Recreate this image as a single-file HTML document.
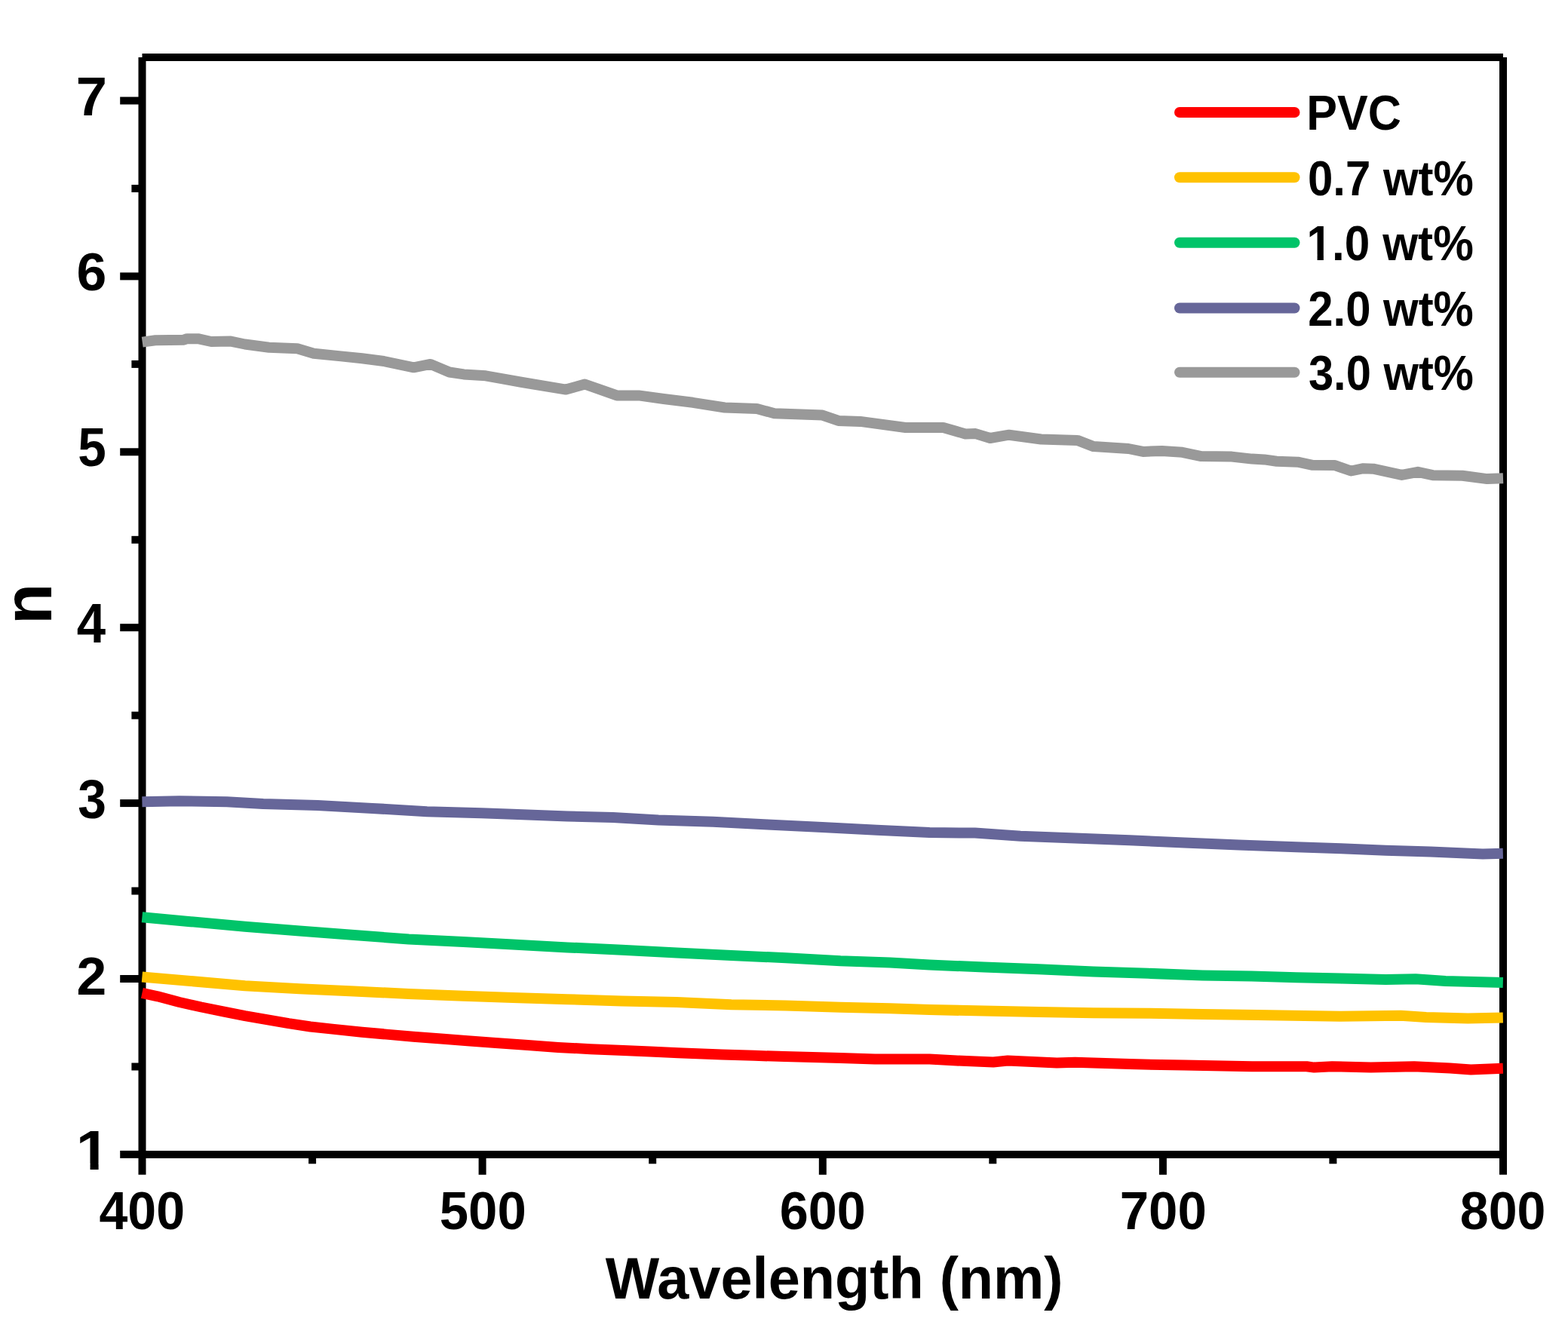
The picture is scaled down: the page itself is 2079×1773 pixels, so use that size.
<!DOCTYPE html>
<html><head><meta charset="utf-8"><title>n vs Wavelength</title>
<style>html,body{margin:0;padding:0;background:#fff;}svg{display:block;}</style>
</head><body>
<svg width="2079" height="1773" viewBox="0 0 2079 1773">
<rect width="100%" height="100%" fill="#fff"/>
<g stroke="#000" stroke-width="10" fill="none" stroke-linecap="butt"><path d="M188.5,76.1H1993.0" /><path d="M188.5,1530.9H1993.0" /><path d="M188.5,76.1V1557.8" /><path d="M1993.0,76.1V1557.8" /><path d="M414.1,1530.9V1543.3" /><path d="M639.6,1530.9V1557.8" /><path d="M865.2,1530.9V1543.3" /><path d="M1090.8,1530.9V1557.8" /><path d="M1316.3,1530.9V1543.3" /><path d="M1541.9,1530.9V1557.8" /><path d="M1767.4,1530.9V1543.3" /><path d="M159.2,1530.9H188.5" /><path d="M174.4,1414.5H188.5" /><path d="M159.2,1298.0H188.5" /><path d="M174.4,1181.5H188.5" /><path d="M159.2,1065.1H188.5" /><path d="M174.4,948.7H188.5" /><path d="M159.2,832.2H188.5" /><path d="M174.4,715.8H188.5" /><path d="M159.2,599.3H188.5" /><path d="M174.4,482.9H188.5" /><path d="M159.2,366.4H188.5" /><path d="M174.4,250.0H188.5" /><path d="M159.2,133.5H188.5" /></g>
<path d="M188.7,453.6 L206.0,451.3 L243.7,450.7 L248.0,449.2 L262.5,449.2 L280.0,453.0 L306.0,452.6 L324.8,456.5 L356.6,460.8 L394.3,462.3 L416.0,468.8 L452.0,472.4 L480.0,475.3 L509.0,479.0 L548.5,487.3 L570.7,482.9 L595.8,493.5 L615.0,496.4 L644.0,498.3 L692.4,507.0 L750.3,516.6 L775.4,509.5 L817.8,524.4 L846.8,524.4 L880.0,529.0 L918.6,533.8 L961.0,540.5 L1003.6,541.9 L1026.7,548.3 L1090.4,550.6 L1111.7,557.9 L1140.6,558.9 L1200.5,567.0 L1250.7,567.0 L1280.0,575.4 L1293.5,575.1 L1312.8,581.0 L1337.9,576.7 L1380.4,582.5 L1428.6,583.9 L1449.9,592.1 L1496.2,595.0 L1515.5,598.9 L1540.6,597.9 L1567.6,599.8 L1592.7,605.1 L1633.3,605.6 L1660.0,608.6 L1676.4,609.4 L1692.8,611.8 L1720.7,612.7 L1740.4,616.8 L1770.0,617.1 L1791.3,624.5 L1807.7,621.2 L1820.8,621.7 L1858.6,629.9 L1879.9,625.8 L1899.6,630.2 L1939.0,630.7 L1971.8,635.1 L1993.0,634.3" fill="none" stroke="#999999" stroke-width="14" stroke-linejoin="round" stroke-linecap="butt"/>
<path d="M188.4,1063.2 L237.9,1062.2 L300.7,1063.2 L348.9,1066.1 L421.3,1068.0 L493.7,1071.9 L566.1,1076.2 L638.5,1078.2 L680.0,1079.7 L752.4,1082.6 L812.7,1084.0 L873.0,1087.4 L945.4,1089.8 L1017.8,1093.4 L1090.2,1097.1 L1162.6,1100.7 L1232.4,1104.1 L1292.7,1104.6 L1353.0,1108.7 L1425.4,1111.4 L1497.8,1114.3 L1570.2,1117.4 L1642.6,1120.6 L1718.7,1123.2 L1778.1,1125.2 L1837.4,1127.8 L1896.8,1129.6 L1966.0,1132.5 L1992.8,1131.8" fill="none" stroke="#666699" stroke-width="14" stroke-linejoin="round" stroke-linecap="butt"/>
<path d="M188.4,1216.2 L252.4,1222.2 L324.8,1228.7 L397.2,1234.5 L469.6,1240.1 L542.0,1245.4 L614.4,1249.0 L680.0,1252.4 L752.4,1256.4 L824.8,1259.8 L897.2,1263.4 L969.6,1267.1 L1042.0,1270.2 L1114.4,1274.3 L1180.0,1276.5 L1232.4,1279.4 L1304.8,1282.6 L1377.2,1285.2 L1449.6,1288.6 L1522.0,1290.8 L1594.4,1293.4 L1659.4,1294.6 L1718.7,1296.2 L1778.1,1297.6 L1837.4,1299.0 L1877.0,1298.2 L1916.6,1301.0 L1992.8,1303.1" fill="none" stroke="#00C469" stroke-width="14" stroke-linejoin="round" stroke-linecap="butt"/>
<path d="M188.4,1295.5 L252.4,1301.0 L324.8,1307.3 L397.2,1311.2 L469.6,1314.5 L542.0,1317.9 L614.4,1320.8 L680.0,1322.9 L752.4,1325.2 L824.8,1327.4 L897.2,1328.9 L969.6,1332.2 L1042.0,1333.4 L1114.4,1335.8 L1180.0,1337.2 L1232.4,1339.0 L1304.8,1340.6 L1377.2,1341.9 L1449.6,1343.3 L1522.0,1343.8 L1594.4,1345.0 L1667.3,1346.0 L1776.1,1347.8 L1857.2,1346.8 L1890.9,1349.0 L1946.3,1350.6 L1992.8,1349.6" fill="none" stroke="#FFC200" stroke-width="14" stroke-linejoin="round" stroke-linecap="butt"/>
<path d="M188.4,1316.9 L209.0,1321.3 L237.9,1329.0 L266.9,1335.5 L295.8,1341.3 L324.8,1347.1 L353.7,1352.1 L382.7,1357.2 L411.6,1361.5 L440.6,1364.6 L480.0,1368.8 L512.4,1371.6 L548.0,1374.8 L584.8,1377.4 L620.0,1380.3 L657.2,1383.0 L700.0,1386.0 L740.0,1388.9 L783.0,1391.2 L826.9,1393.0 L862.0,1394.6 L899.3,1396.2 L957.2,1398.4 L1000.0,1399.8 L1040.0,1401.1 L1114.4,1403.0 L1160.0,1404.6 L1232.4,1404.6 L1268.6,1406.5 L1316.9,1408.5 L1336.2,1406.5 L1401.3,1409.4 L1425.4,1408.7 L1497.8,1411.1 L1570.2,1412.6 L1660.0,1414.3 L1732.6,1414.2 L1742.5,1415.6 L1766.2,1414.2 L1817.6,1415.6 L1875.0,1414.2 L1922.5,1416.6 L1950.2,1418.4 L1992.8,1416.8" fill="none" stroke="#FF0000" stroke-width="14" stroke-linejoin="round" stroke-linecap="butt"/>
<path d="M1564,149.0H1716.5" stroke="#FF0000" stroke-width="14" stroke-linecap="round" fill="none"/>
<path d="M1564,235.3H1716.5" stroke="#FFC200" stroke-width="14" stroke-linecap="round" fill="none"/>
<path d="M1564,321.8H1716.5" stroke="#00C469" stroke-width="14" stroke-linecap="round" fill="none"/>
<path d="M1564,408.5H1716.5" stroke="#666699" stroke-width="14" stroke-linecap="round" fill="none"/>
<path d="M1564,493.8H1716.5" stroke="#999999" stroke-width="14" stroke-linecap="round" fill="none"/>
<g font-family="Liberation Sans, Arial, sans-serif" font-weight="bold">
<text transform="translate(100.81,153.00) scale(1.0205,1)" font-size="72.68" fill="#000">7</text>
<text transform="translate(101.58,385.42) scale(1.0238,1)" font-size="69.91" fill="#000">6</text>
<text transform="translate(103.22,617.90) scale(0.9405,1)" font-size="71.80" fill="#000">5</text>
<text transform="translate(101.65,852.30) scale(0.9318,1)" font-size="74.13" fill="#000">4</text>
<text transform="translate(103.24,1084.89) scale(0.9431,1)" font-size="71.88" fill="#000">3</text>
<text transform="translate(101.62,1318.70) scale(1.0038,1)" font-size="71.18" fill="#000">2</text>
<text transform="translate(100.80,1551) scale(1.0953,1)" font-size="73.4">1</text>
<text transform="translate(131.47,1630.41) scale(0.9643,1)" font-size="70.62" fill="#000">400</text>
<text transform="translate(582.78,1630.41) scale(0.9764,1)" font-size="70.62" fill="#000">500</text>
<text transform="translate(1033.70,1630.41) scale(0.9684,1)" font-size="70.62" fill="#000">600</text>
<text transform="translate(1484.63,1630.41) scale(0.9777,1)" font-size="70.62" fill="#000">700</text>
<text transform="translate(1935.84,1630.41) scale(0.9646,1)" font-size="70.62" fill="#000">800</text>
<text transform="translate(802.73,1722.4) scale(0.9642,1)" font-size="78.5">Wavelength (nm)</text>
<text transform="translate(68.00,828.04) rotate(-90) scale(0.9742,1)" font-size="90.98">n</text>
<text transform="translate(1732.21,172.24) scale(0.9483,1)" font-size="64.5">PVC</text>
<text transform="translate(1733.93,258.54) scale(0.9297,1)" font-size="64.5">0.7 wt%</text>
<text transform="translate(1732.50,345.04) scale(0.9358,1)" font-size="64.5">1.0 wt%</text>
<text transform="translate(1734.22,431.74) scale(0.9284,1)" font-size="64.5">2.0 wt%</text>
<text transform="translate(1734.93,517.04) scale(0.9254,1)" font-size="64.5">3.0 wt%</text>
</g>
<rect x="104.37" y="1542.91" width="15.20" height="9.49" fill="#fff"/><rect x="130.60" y="1542.91" width="14.18" height="9.49" fill="#fff"/>
<rect x="1734.80" y="337.85" width="11.79" height="8.58" fill="#fff"/><rect x="1754.87" y="337.85" width="11.02" height="8.58" fill="#fff"/>
</svg>
</body></html>
